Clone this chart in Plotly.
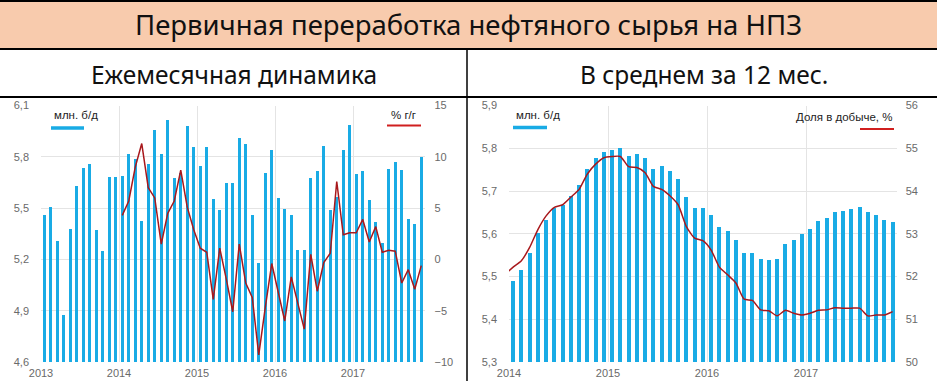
import plotly.graph_objects as go

W, H = 937, 381

# ---------------- DATA ----------------
# Monthly primary refining, mln b/d, Jan 2013 - Nov 2017
monthly_start_year = 2013
monthly_output = [
    5.46, 5.51, 5.31, 4.88, 5.38, 5.63, 5.74, 5.76, 5.375, 5.25, 5.685, 5.685,
    5.69, 5.82, 5.79, 5.43, 5.76, 5.96, 5.82, 6.02, 5.68, 5.71, 5.985, 5.86,
    5.75, 5.86, 5.555, 5.49, 5.65, 5.65, 5.91, 5.88, 5.46, 5.18, 5.71, 5.84,
    5.56, 5.50, 5.46, 5.26, 5.26, 5.68, 5.72, 5.865, 5.49, 5.57, 5.84, 5.99,
    5.705, 5.72, 5.55, 5.42, 5.30, 5.73, 5.77, 5.725, 5.44, 5.41, 5.80,
]
# Year-on-year change, %, Jan 2014 - Nov 2017
yoy_start_year = 2014
yoy_pct = [
    4.3, 5.7, 9.0, 11.3, 7.0, 6.0, 1.5, 4.5, 5.7, 8.7, 5.1, 2.9,
    1.1, 0.7, -3.9, 1.1, -1.9, -5.1, 1.5, -2.3, -3.7, -9.3, -4.7, -0.4,
    -3.2, -6.0, -1.7, -4.2, -6.8, 0.5, -3.1, -0.3, 0.6, 7.6, 2.4, 2.6,
    2.6, 3.9, 1.7, 3.2, 0.7, 0.9, 0.8, -2.3, -1.0, -2.9, -0.6,
]
# 12-month average, mln b/d, Jan 2014 - Nov 2017
avg_start_year = 2014
avg12_output = [
    5.491, 5.517, 5.556, 5.602, 5.634, 5.662, 5.669, 5.689, 5.714, 5.753, 5.778, 5.792,
    5.798, 5.801, 5.782, 5.787, 5.778, 5.752, 5.759, 5.749, 5.730, 5.686, 5.662, 5.661,
    5.645, 5.616, 5.607, 5.587, 5.555, 5.557, 5.541, 5.540, 5.543, 5.576, 5.587, 5.600,
    5.613, 5.630, 5.638, 5.651, 5.654, 5.658, 5.663, 5.651, 5.646, 5.633, 5.629,
]
# Share in oil production, %, Dec 2013 - Nov 2017
share_start = (2013, 12)
share_pct = [
    52.05,
    52.22, 52.37, 52.68, 53.1, 53.42, 53.62, 53.68, 53.86, 54.04, 54.40, 54.63, 54.78,
    54.81, 54.81, 54.57, 54.55, 54.43, 54.11, 54.04, 53.89, 53.68, 53.17, 52.90, 52.84,
    52.62, 52.22, 52.04, 51.85, 51.47, 51.44, 51.22, 51.20, 51.08, 51.21, 51.14, 51.10,
    51.14, 51.21, 51.22, 51.27, 51.26, 51.26, 51.26, 51.08, 51.10, 51.10, 51.18,
]
year_ticks_left = [2013, 2014, 2015, 2016, 2017]
year_ticks_right = [2014, 2015, 2016, 2017]

title_text = "Первичная переработка нефтяного сырья на НПЗ"
sub_left = "Ежемесячная динамика"
sub_right = "В среднем за 12 мес."
unit_label = "млн. б/д"
yoy_label = "% г/г"
share_label = "Доля в добыче, %"


def month_pos(start_year, start_month, n):
    # mid-month position in fractional years
    out = []
    for k in range(n):
        m = start_month - 1 + k
        out.append(start_year + (m + 0.5) / 12.0)
    return out


x_monthly = month_pos(monthly_start_year, 1, len(monthly_output))
x_yoy = month_pos(yoy_start_year, 1, len(yoy_pct))
x_avg = month_pos(avg_start_year, 1, len(avg12_output))
x_share = month_pos(share_start[0], share_start[1], len(share_pct))

# ---------------- STYLE ----------------
BAR = "#19ABE5"
RED = "#A8181C"
RED_LEG = "#D01F1F"
GRID = "#E4E4E4"
TICK = dict(family="Liberation Sans, Arial, sans-serif", size=11, color="#6A6A6A")
LEGF = dict(family="Liberation Sans, Arial, sans-serif", size=11.5, color="#222222")
HEADF = "Noto Sans, Open Sans, sans-serif"


def px(x):
    return x / W


def py(y):
    return 1 - y / H


fig = go.Figure()
fig.add_trace(go.Bar(x=x_monthly, y=monthly_output, marker_color=BAR, marker_line_width=0,
                     width=0.52 / 12, xaxis="x", yaxis="y", showlegend=False))
fig.add_trace(go.Scatter(x=x_yoy, y=yoy_pct, mode="lines", line=dict(color=RED, width=1.5),
                         xaxis="x", yaxis="y2", showlegend=False))
fig.add_trace(go.Bar(x=x_avg, y=avg12_output, marker_color=BAR, marker_line_width=0,
                     width=0.5 / 12, xaxis="x3", yaxis="y3", showlegend=False))
fig.add_trace(go.Scatter(x=x_share, y=share_pct, mode="lines",
                         line=dict(color=RED, width=1.5, shape="spline", smoothing=0.6),
                         xaxis="x3", yaxis="y4", showlegend=False))

top_px, bot_px = 105.6, 362.0
ydom = [py(bot_px), py(top_px)]

common_x = dict(showgrid=True, gridcolor=GRID, gridwidth=1, zeroline=False, showline=False,
                ticks="", tickfont=TICK, ticklabelstandoff=3, automargin=False)
common_y = dict(showgrid=True, gridcolor=GRID, gridwidth=1, zeroline=False, showline=False,
                ticks="", tickfont=TICK, automargin=False)

fig.update_layout(
    template="none",
    width=W, height=H, margin=dict(l=0, r=0, t=0, b=0, pad=0), autosize=False,
    paper_bgcolor="white", plot_bgcolor="white",
    separators=", ", bargap=0, showlegend=False,
    xaxis=dict(domain=[px(41), px(424.5)], range=[2013, 2013 + 59 / 12],
               tickvals=year_ticks_left, ticktext=[str(v) for v in year_ticks_left],
               anchor="y", **common_x),
    yaxis=dict(domain=ydom, range=[4.6, 6.1], tick0=4.6, dtick=0.3, tickformat=".1f",
               ticklabelstandoff=11, anchor="x", **common_y),
    yaxis2=dict(domain=ydom, range=[-10, 15], tick0=-10, dtick=5, overlaying="y", side="right",
                anchor="x", showgrid=False, zeroline=False, showline=False, ticks="",
                tickfont=TICK, ticklabelstandoff=9, automargin=False),
    xaxis3=dict(domain=[px(509), px(896.75)], range=[2014, 2014 + 47 / 12],
                tickvals=year_ticks_right, ticktext=[str(v) for v in year_ticks_right],
                anchor="y3", **common_x),
    yaxis3=dict(domain=ydom, range=[5.3, 5.9], tick0=5.3, dtick=0.1, tickformat=".1f",
                ticklabelstandoff=11, anchor="x3", **common_y),
    yaxis4=dict(domain=ydom, range=[50, 56], tick0=50, dtick=1, overlaying="y3", side="right",
                anchor="x3", showgrid=False, zeroline=False, showline=False, ticks="",
                tickfont=TICK, ticklabelstandoff=8, automargin=False),
)

PEACH_BOT = 49
ROW_BOT = 97
shapes = [
    dict(type="rect", xref="paper", yref="paper", x0=0, x1=1, y0=py(PEACH_BOT), y1=1,
         fillcolor="#F8CBAD", line_width=0, layer="below"),
    dict(type="line", xref="paper", yref="paper", x0=0, x1=1, y0=py(1), y1=py(1),
         line=dict(color="black", width=2)),
    dict(type="line", xref="paper", yref="paper", x0=0, x1=1, y0=py(PEACH_BOT), y1=py(PEACH_BOT),
         line=dict(color="black", width=2)),
    dict(type="line", xref="paper", yref="paper", x0=0, x1=1, y0=py(ROW_BOT), y1=py(ROW_BOT),
         line=dict(color="black", width=2)),
    dict(type="line", xref="paper", yref="paper", x0=px(467), x1=px(467), y0=0, y1=py(PEACH_BOT),
         line=dict(color="black", width=1.5)),
    # legend swatches
    dict(type="line", xref="paper", yref="paper", x0=px(51), x1=px(84), y0=py(128), y1=py(128),
         line=dict(color=BAR, width=3.5)),
    dict(type="line", xref="paper", yref="paper", x0=px(387), x1=px(421), y0=py(125.5), y1=py(125.5),
         line=dict(color=RED_LEG, width=2)),
    dict(type="line", xref="paper", yref="paper", x0=px(513), x1=px(547), y0=py(127.5), y1=py(127.5),
         line=dict(color=BAR, width=3.5)),
    dict(type="line", xref="paper", yref="paper", x0=px(860), x1=px(894), y0=py(129), y1=py(129),
         line=dict(color=RED_LEG, width=2)),
]
fig.update_layout(shapes=shapes)

ann = [
    dict(text=title_text, x=0.5, y=py(25), xref="paper", yref="paper", showarrow=False,
         font=dict(family=HEADF, size=27.5, color="#111111"), xanchor="center", yanchor="middle"),
    dict(text=sub_left, x=px(234), y=py(74), xref="paper", yref="paper", showarrow=False,
         font=dict(family=HEADF, size=24.5, color="#111111"), xanchor="center", yanchor="middle"),
    dict(text=sub_right, x=px(704), y=py(74), xref="paper", yref="paper", showarrow=False,
         font=dict(family=HEADF, size=24.5, color="#111111"), xanchor="center", yanchor="middle"),
    dict(text=unit_label, x=px(52), y=py(115), xref="paper", yref="paper", showarrow=False,
         font=LEGF, xanchor="left", yanchor="middle"),
    dict(text=yoy_label, x=px(418), y=py(115), xref="paper", yref="paper", showarrow=False,
         font=LEGF, xanchor="right", yanchor="middle"),
    dict(text=unit_label, x=px(514), y=py(115), xref="paper", yref="paper", showarrow=False,
         font=LEGF, xanchor="left", yanchor="middle"),
    dict(text=share_label, x=px(894), y=py(117), xref="paper", yref="paper", showarrow=False,
         font=LEGF, xanchor="right", yanchor="middle"),
]
fig.update_layout(annotations=ann)

# remove the browser's default page margin so the 937x381 figure fills the window exactly
fig.write_html("out.html",
               config={"displayModeBar": False},
               post_script="document.body.style.margin='0';document.body.style.padding='0';"
                           "document.documentElement.style.overflow='hidden';")
